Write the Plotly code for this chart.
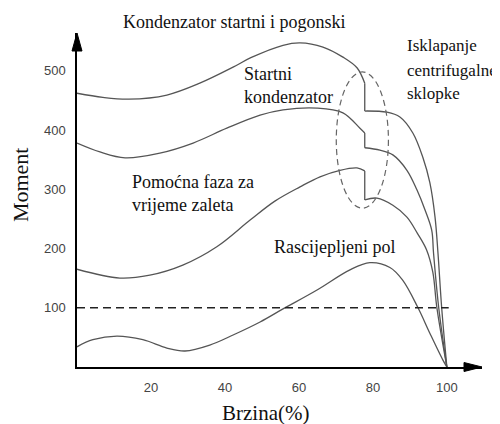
import plotly.graph_objects as go

# ---- Data (speed in %, torque) ----
# Kondenzator startni i pogonski
c1_pre_speed = [0, 7, 14, 24.3, 33.2, 42.2, 47, 55.7, 60.3, 66.5, 71.9, 75.7, 77.8]
c1_pre_torque = [462, 455, 452, 459, 479, 506, 522, 543, 547, 540, 523, 505, 479]
c1_post_speed = [77.8, 83.8, 87.3, 90.8, 93.5, 95.4, 96.8, 97.6, 98.6, 100]
c1_post_torque = [432, 430, 422, 395, 354, 311, 253, 192, 100, 0]

# Startni kondenzator
c2_pre_speed = [0, 6.2, 13, 22.4, 31.4, 40.5, 49.5, 55.7, 64.9, 71.9, 76.5, 77.8]
c2_pre_torque = [378, 363, 353, 361, 378, 403, 425, 434, 437, 429, 403, 395]
c2_post_speed = [77.8, 81.9, 85.4, 89.2, 91.9, 94.1, 95.9, 96.4, 97.8, 100]
c2_post_torque = [370, 366, 358, 332, 299, 265, 231, 192, 100, 0]

# Pomocna faza za vrijeme zaleta
c3_pre_speed = [0, 11.6, 19.7, 28.6, 37.8, 46.8, 53.5, 60.3, 65.7, 71.1, 75.7, 77.8]
c3_pre_torque = [165, 150, 155, 172, 203, 248, 280, 304, 321, 332, 336, 331]
c3_post_speed = [77.8, 81.1, 85.4, 89.2, 92.0, 94.5, 96.2, 97.3, 100]
c3_post_torque = [282, 285, 273, 253, 226, 198, 160, 100, 0]

# Rascijepljeni pol
c4_speed = [0, 4.3, 10.8, 17.8, 24.3, 29.2, 35.9, 42.2, 49.5, 55.7, 64.9, 73.8, 79.2, 84.6, 88, 92.2, 95.4, 98.9, 100]
c4_torque = [34, 46, 52, 46, 32, 27, 37, 54, 76, 98, 130, 164, 176, 168, 147, 100, 57, 12, 0]

# Reference level
ref_speed = [0, 100.5]
ref_torque = [100, 100]

x_ticks = [20, 40, 60, 80, 100]
y_ticks = [100, 200, 300, 400, 500]

LINE = dict(color="#555555", width=1.3)
SERIF = "Liberation Serif, Times New Roman, serif"

fig = go.Figure()

def add_curve(pre_x, pre_y, post_x, post_y):
    fig.add_trace(go.Scatter(x=pre_x, y=pre_y, mode="lines",
                             line=dict(shape="spline", smoothing=1.0, **LINE),
                             hoverinfo="skip", showlegend=False))
    fig.add_trace(go.Scatter(x=[pre_x[-1], post_x[0]], y=[pre_y[-1], post_y[0]], mode="lines",
                             line=LINE, hoverinfo="skip", showlegend=False))
    fig.add_trace(go.Scatter(x=post_x, y=post_y, mode="lines",
                             line=dict(shape="spline", smoothing=1.0, **LINE),
                             hoverinfo="skip", showlegend=False))

add_curve(c1_pre_speed, c1_pre_torque, c1_post_speed, c1_post_torque)
add_curve(c2_pre_speed, c2_pre_torque, c2_post_speed, c2_post_torque)
add_curve(c3_pre_speed, c3_pre_torque, c3_post_speed, c3_post_torque)

fig.add_trace(go.Scatter(x=c4_speed, y=c4_torque, mode="lines",
                         line=dict(shape="spline", smoothing=1.0, **LINE),
                         hoverinfo="skip", showlegend=False))

fig.add_trace(go.Scatter(x=ref_speed, y=ref_torque, mode="lines",
                         line=dict(color="#222222", width=1.4, dash="8px,5px"),
                         hoverinfo="skip", showlegend=False))

# dashed ellipse around the switching point
fig.add_shape(type="circle", xref="x", yref="y", x0=70.1, x1=84.2, y0=268, y1=498,
              line=dict(color="#666666", width=1.2, dash="6px,4px"))

# axis arrows
fig.add_shape(type="path", xref="paper", yref="paper", xsizemode="pixel", ysizemode="pixel",
              xanchor=1, yanchor=0, path="M0,0 L-18,-4.5 L-18,4.5 Z",
              fillcolor="black", line=dict(color="black", width=1))
fig.add_shape(type="path", xref="paper", yref="paper", xsizemode="pixel", ysizemode="pixel",
              xanchor=0, yanchor=1, path="M0,0 L-5,-18 L5,-18 Z",
              fillcolor="black", line=dict(color="black", width=1))

def label(text, x, y, anchor="left", size=18):
    fig.add_annotation(text=text, x=x, y=y, xref="x", yref="y", showarrow=False,
                       xanchor=anchor, yanchor="middle",
                       font=dict(family=SERIF, size=size, color="#111111"))

label("Startni", 44.6, 495)
label("kondenzator", 44.6, 455)
label("Pomoćna faza za", 14.3, 312)
label("vrijeme zaleta", 14.3, 273)
label("Rascijepljeni pol", 52.7, 203)
label("Isklapanje", 88.7, 543, size=17)
label("centrifugalne", 88.7, 501, size=17)
label("sklopke", 88.7, 462, size=17)

fig.add_annotation(text="Kondenzator startni i pogonski", x=0.387, y=1.033,
                   xref="paper", yref="paper", showarrow=False,
                   xanchor="center", yanchor="middle",
                   font=dict(family=SERIF, size=18, color="#111111"))
fig.add_annotation(text="Moment", x=-0.138, y=0.545, xref="paper", yref="paper",
                   showarrow=False, textangle=-90, xanchor="center", yanchor="middle",
                   font=dict(family=SERIF, size=22, color="#111111"))
fig.add_annotation(text="Brzina(%)", x=0.466, y=-0.138, xref="paper", yref="paper",
                   showarrow=False, xanchor="center", yanchor="middle",
                   font=dict(family=SERIF, size=21, color="#111111"))

TICKFONT = dict(family="Liberation Sans, Arial, sans-serif", size=13, color="#444444")

# the page body adds an 8px offset, so the figure is 8px smaller on each axis
fig.update_layout(
    width=492, height=416,
    margin=dict(l=69, r=18, t=25, b=57),
    paper_bgcolor="white", plot_bgcolor="white",
    showlegend=False,
    xaxis=dict(range=[0, 109.5], showline=True, linecolor="black", linewidth=1.5,
               showgrid=False, zeroline=False, tickvals=x_ticks,
               ticks="outside", ticklen=8, tickcolor="rgba(0,0,0,0)", tickfont=TICKFONT),
    yaxis=dict(range=[0, 563.7], showline=True, linecolor="black", linewidth=1.5,
               showgrid=False, zeroline=False, tickvals=y_ticks,
               ticks="outside", ticklen=7, tickcolor="rgba(0,0,0,0)", tickfont=TICKFONT),
)

fig.write_html("out.html")
